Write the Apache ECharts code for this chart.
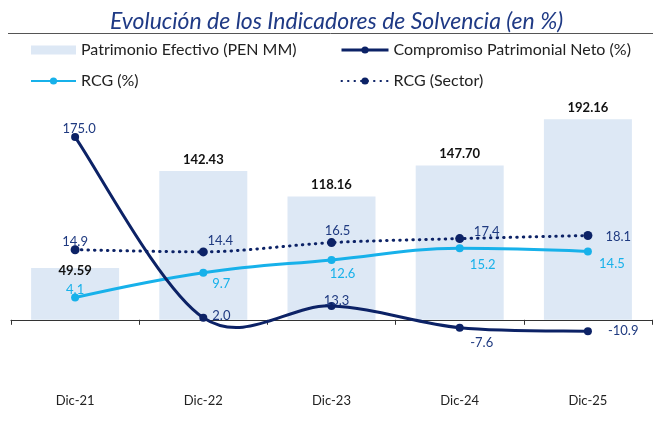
<!DOCTYPE html>
<html>
<head>
<meta charset="utf-8">
<script src="https://cdn.jsdelivr.net/npm/echarts@6/dist/echarts.min.js"></script>
<style>
  html, body { margin: 0; padding: 0; background: #fff; }
  #chart { width: 653px; height: 421px; }
</style>
</head>
<body>
<div id="chart"></div>
<script>
const categories = ['Dic-21', 'Dic-22', 'Dic-23', 'Dic-24', 'Dic-25'];
const patrimonio = [49.59, 142.43, 118.16, 147.70, 192.16];
const cpn = [175.0, 2.0, 13.3, -7.6, -10.9];
const rcg = [4.1, 9.7, 12.6, 15.2, 14.5];
const rcgSector = [14.9, 14.4, 16.5, 17.4, 18.1];

// label placement per point [position, offset]
const barLabelPos = [['top', [0, 14]], ['top', [0, 0]], ['top', [0, 0]], ['top', [0, 0]], ['top', [0, 0]]];
const cpnLabelPos = [['top', [4, 7]], ['right', [0, -2]], ['top', [5, 10]], ['bottom', [22, 0]], ['right', [11, 0]]];
const rcgLabelPos = [['top', [0, 8]], ['bottom', [18, -4]], ['bottom', [11, -2]], ['bottom', [23, 1]], ['bottom', [24, -3]]];
const sectorLabelPos = [['top', [0, 8]], ['top', [17, 5]], ['top', [6, 4]], ['top', [27, 9]], ['right', [8, 1]]];

const FONT = 'Lato';
const NAVY = '#0c2266';
const CYAN = '#17b1ea';

function withLabels(values, pos, extra) {
    return values.map((v, i) => ({
        value: v,
        label: Object.assign({ position: pos[i][0], offset: pos[i][1] }, extra || {})
    }));
}

// Excel-like smoothed curve (Catmull-Rom -> bezier), points from the axes via api.coord
function smoothPath(pts) {
    let d = 'M' + pts[0][0] + ' ' + pts[0][1];
    for (let i = 0; i < pts.length - 1; i++) {
        let p0 = pts[i - 1] || pts[i];
        let p1 = pts[i];
        let p2 = pts[i + 1];
        let p3 = pts[i + 2] || pts[i + 1];
        let c1 = [p1[0] + (p2[0] - p0[0]) / 6, p1[1] + (p2[1] - p0[1]) / 6];
        let c2 = [p2[0] - (p3[0] - p1[0]) / 6, p2[1] - (p3[1] - p1[1]) / 6];
        d += ' C' + c1[0] + ' ' + c1[1] + ' ' + c2[0] + ' ' + c2[1] + ' ' + p2[0] + ' ' + p2[1];
    }
    return d;
}

let chart = echarts.init(document.getElementById('chart'));

let option = {
    animation: false,
    textStyle: { fontFamily: FONT },
    title: {
        text: 'Evolución de los Indicadores de Solvencia (en %)',
        left: 105,
        top: 5,
        textStyle: { fontFamily: FONT, fontStyle: 'italic', fontWeight: 'normal', fontSize: 23, color: '#1f3a85' }
    },
    graphic: [{
        type: 'line',
        shape: { x1: 8, y1: 33.5, x2: 653, y2: 33.5 },
        style: { stroke: '#555', lineWidth: 1 }
    }],
    legend: [
        {
            left: 25, top: 37, orient: 'vertical', itemGap: 15,
            itemWidth: 45, itemHeight: 9,
            textStyle: { fontFamily: FONT, fontSize: 16, color: '#222' },
            data: [{ name: 'Patrimonio Efectivo (PEN MM)', icon: 'rect' }, 'RCG (%)']
        },
        {
            left: 335, top: 37, orient: 'vertical', itemGap: 15,
            itemWidth: 47, itemHeight: 9,
            textStyle: { fontFamily: FONT, fontSize: 16, color: '#222' },
            data: [
                { name: 'Compromiso Patrimonial Neto (%)', lineStyle: { color: NAVY, width: 3, opacity: 1 } },
                'RCG (Sector)'
            ]
        }
    ],
    grid: { left: 11, right: 1, top: 111, bottom: 49 },
    xAxis: [
        {
            type: 'category',
            data: categories,
            position: 'bottom',
            axisLine: { onZero: true, onZeroAxisIndex: 0, lineStyle: { color: '#333', width: 1.2 } },
            axisTick: { show: true, length: 5, lineStyle: { color: '#333' } },
            axisLabel: { show: false }
        },
        {
            type: 'category',
            data: categories,
            position: 'bottom',
            axisLine: { show: false, onZero: false },
            axisTick: { show: false },
            axisLabel: { margin: 22, fontFamily: FONT, fontSize: 13, color: '#222' }
        }
    ],
    yAxis: [
        { type: 'value', min: -50, max: 200, show: false, splitLine: { show: false } },
        { type: 'value', min: -12.7, max: 46.2, show: false, splitLine: { show: false } }
    ],
    series: [
        {
            name: 'Patrimonio Efectivo (PEN MM)',
            type: 'bar',
            barWidth: 88,
            itemStyle: { color: '#dde8f5' },
            label: {
                show: true, fontFamily: FONT, fontSize: 13, fontWeight: 'bold', color: '#111',
                formatter: p => p.value.toFixed(2)
            },
            data: withLabels(patrimonio, barLabelPos),
            z: 1
        },
        {
            name: 'Compromiso Patrimonial Neto (%)',
            type: 'line',
            symbol: 'circle',
            symbolSize: 8,
            lineStyle: { color: NAVY, width: 3, opacity: 0 },
            itemStyle: { color: NAVY },
            label: {
                show: true, fontFamily: FONT, fontSize: 13, color: '#1f3a80',
                formatter: p => p.value.toFixed(1)
            },
            data: withLabels(cpn, cpnLabelPos),
            z: 5
        },
        {
            name: 'Compromiso Patrimonial Neto (%)',
            type: 'custom',
            data: cpn.map((v, i) => [i, v]),
            renderItem: (params, api) => {
                if (params.dataIndex !== 0) return null;
                let pts = cpn.map((v, i) => api.coord([i, v]));
                return {
                    type: 'path',
                    shape: { pathData: smoothPath(pts) },
                    style: { fill: 'none', stroke: NAVY, lineWidth: 3 }
                };
            },
            z: 4
        },
        {
            name: 'RCG (%)',
            type: 'line',
            yAxisIndex: 1,
            smooth: 0.4,
            symbol: 'circle',
            symbolSize: 8,
            lineStyle: { color: CYAN, width: 3 },
            itemStyle: { color: CYAN },
            label: {
                show: true, fontFamily: FONT, fontSize: 13, color: CYAN,
                formatter: p => p.value.toFixed(1)
            },
            data: withLabels(rcg, rcgLabelPos),
            z: 3
        },
        {
            name: 'RCG (Sector)',
            type: 'line',
            yAxisIndex: 1,
            smooth: 0.3,
            symbol: 'circle',
            symbolSize: 9,
            lineStyle: { color: NAVY, width: 3, type: [0.5, 6], cap: 'round' },
            itemStyle: { color: NAVY },
            label: {
                show: true, fontFamily: FONT, fontSize: 13, color: '#1f3a80',
                formatter: p => p.value.toFixed(1)
            },
            data: withLabels(rcgSector, sectorLabelPos),
            z: 3
        }
    ]
};

chart.setOption(option);
window.addEventListener('resize', () => {
    chart.resize()
})
</script>
</body>
</html>
